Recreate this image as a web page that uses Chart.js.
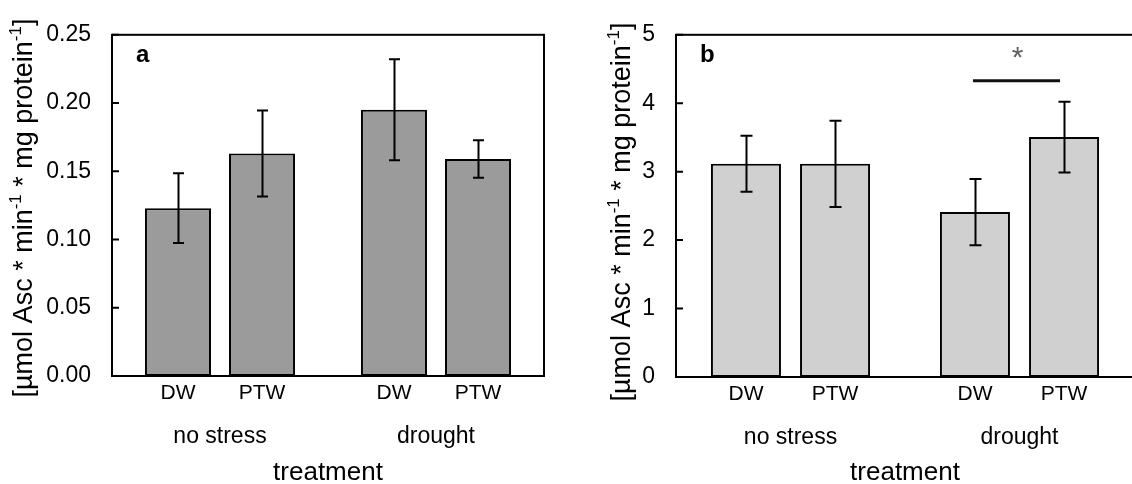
<!DOCTYPE html>
<html><head><meta charset="utf-8">
<script src="https://cdn.jsdelivr.net/npm/chart.js@4.4.1/dist/chart.umd.min.js"></script>
<style>
html,body{margin:0;padding:0;background:#fff;overflow:hidden;width:1132px;height:484px;position:relative;}
#wa{position:absolute;left:0;top:0;width:566px;height:484px;}
#wb{position:absolute;left:566px;top:0;width:580px;height:484px;}
</style></head><body>
<div id="wa"><canvas id="ca"></canvas></div>
<div id="wb"><canvas id="cb"></canvas></div>
<script>
// ---- data ----
const groups = ['no stress', 'drought'];
const waterTypes = ['DW', 'PTW'];
const aDW = [0.123, 0.195];
const aPTW = [0.163, 0.159];
const aDWErr = [0.0255, 0.037];
const aPTWErr = [0.0315, 0.0138];
const bDW = [3.115, 2.41];
const bPTW = [3.115, 3.505];
const bDWErr = [0.41, 0.484];
const bPTWErr = [0.63, 0.518];
const aTicks = [0, 0.05, 0.10, 0.15, 0.20, 0.25];
const bTicks = [0, 1, 2, 3, 4, 5];
const bSigLevel = 4.33;      // significance bracket (drought: DW vs PTW)
const bSigMark = '*';
const xTitle = 'treatment';

const FAM = '"Liberation Sans", Arial, Helvetica, sans-serif';

function makeChart(canvasId, cfg) {
  const errPlugin = {
    id: 'extras',
    afterDatasetsDraw(chart) {
      const ctx = chart.ctx;
      const ys = chart.scales.y, ca = chart.chartArea;
      ctx.save();
      // error bars
      chart.data.datasets.forEach((ds, di) => {
        const meta = chart.getDatasetMeta(di);
        meta.data.forEach((bar, i) => {
          const v = ds.data[i], e = cfg.errs[di][i];
          const yt = ys.getPixelForValue(v + e), yb = ys.getPixelForValue(v - e);
          const x = Math.round(bar.x) + 0.5;
          ctx.strokeStyle = '#000'; ctx.lineWidth = 2;
          ctx.beginPath();
          ctx.moveTo(x, yt); ctx.lineTo(x, yb);
          ctx.moveTo(x - cfg.cap, yt); ctx.lineTo(x + cfg.cap, yt);
          ctx.moveTo(x - cfg.cap, yb); ctx.lineTo(x + cfg.cap, yb);
          ctx.stroke();
          // sub labels under each bar
          ctx.fillStyle = '#000';
          ctx.font = '21px ' + FAM;
          ctx.textAlign = 'center'; ctx.textBaseline = 'middle';
          ctx.fillText(waterTypes[di], bar.x, ca.bottom + 17);
        });
      });
      // frame
      ctx.lineWidth = 2; ctx.strokeStyle = '#000';
      ctx.strokeRect(ca.left, ca.top, ca.right - ca.left, ca.bottom - ca.top);
      // inward y ticks
      ctx.beginPath();
      ys.ticks.forEach(t => {
        const y = ys.getPixelForValue(t.value);
        ctx.moveTo(ca.left, y); ctx.lineTo(ca.left + 7, y);
      });
      ctx.stroke();
      // panel letter
      ctx.fillStyle = '#000';
      ctx.font = 'bold 24px ' + FAM;
      ctx.textAlign = 'left'; ctx.textBaseline = 'alphabetic';
      ctx.fillText(cfg.letter, ca.left + 24, 62);
      // significance
      if (cfg.sig) {
        const m0 = chart.getDatasetMeta(0).data[1], m1 = chart.getDatasetMeta(1).data[1];
        const y = ys.getPixelForValue(cfg.sig.level);
        ctx.lineWidth = 3; ctx.strokeStyle = '#111';
        ctx.beginPath(); ctx.moveTo(m0.x - 2, y); ctx.lineTo(m1.x - 4, y); ctx.stroke();
        ctx.fillStyle = '#606060';
        ctx.font = '30px ' + FAM;
        ctx.textAlign = 'center'; ctx.textBaseline = 'middle';
        ctx.fillText(cfg.sig.mark, (m0.x + m1.x) / 2 - 2, y - 22);
      }
      // y title with superscripts
      const parts = [['[µmol Asc * min', 0], ['-1', 1], [' * mg protein', 0], ['-1', 1], [']', 0]];
      const fs = cfg.titleSize, sfs = Math.round(fs * 0.62);
      let total = 0;
      parts.forEach(p => { ctx.font = (p[1] ? sfs : fs) + 'px ' + FAM; total += ctx.measureText(p[0]).width; });
      ctx.translate(cfg.titleX, cfg.titleY);
      ctx.rotate(-Math.PI / 2);
      ctx.fillStyle = '#000'; ctx.textAlign = 'left'; ctx.textBaseline = 'middle';
      let x = -total / 2;
      parts.forEach(p => {
        ctx.font = (p[1] ? sfs : fs) + 'px ' + FAM;
        ctx.fillText(p[0], x, p[1] ? -fs * 0.33 : 0);
        x += ctx.measureText(p[0]).width;
      });
      ctx.restore();
    }
  };
  return new Chart(document.getElementById(canvasId), {
    type: 'bar',
    data: {
      labels: groups,
      datasets: [
        { label: waterTypes[0], data: cfg.dw, backgroundColor: cfg.fill, borderColor: '#000', borderWidth: 2, borderSkipped: false,
          categoryPercentage: 0.778, barPercentage: 0.786 },
        { label: waterTypes[1], data: cfg.ptw, backgroundColor: cfg.fill, borderColor: '#000', borderWidth: 2, borderSkipped: false,
          categoryPercentage: 0.778, barPercentage: 0.786 }
      ]
    },
    options: {
      responsive: true, maintainAspectRatio: false, animation: false,
      devicePixelRatio: 1,
      layout: { padding: { left: 0, right: cfg.padRight, top: cfg.padTop, bottom: 0 } },
      plugins: { legend: { display: false }, tooltip: { enabled: false } },
      scales: {
        x: {
          grid: { display: false, drawTicks: false }, border: { display: false },
          ticks: { color: '#000', font: { size: 23, family: FAM }, padding: 47 },
          title: { display: true, text: xTitle, color: '#000', font: { size: 26, family: FAM, lineHeight: 0.85 }, padding: 0 },
          afterFit(s) { s.height = cfg.xh; }
        },
        y: {
          min: 0, max: cfg.max,
          afterBuildTicks(s) { s.ticks = cfg.ticks.map(v => ({ value: v })); },
          grid: { display: false, drawTicks: false }, border: { display: false },
          ticks: { color: '#000', font: { size: 23, family: FAM }, padding: 21,
                   callback: v => cfg.fmt(v) },
          afterFit(s) { s.width = cfg.yw; }
        }
      }
    },
    plugins: [errPlugin]
  });
}

makeChart('ca', {
  dw: aDW, ptw: aPTW, errs: [aDWErr, aPTWErr], fill: '#9b9b9b', max: 0.25, ticks: aTicks,
  fmt: v => v.toFixed(2), yw: 112, xh: 108, padTop: 25, padRight: 22, cap: 5.5,
  letter: 'a', titleX: 25, titleY: 208, titleSize: 27
});
makeChart('cb', {
  dw: bDW, ptw: bPTW, errs: [bDWErr, bPTWErr], fill: '#d0d0d0', max: 5, ticks: bTicks,
  fmt: v => String(v), yw: 110, xh: 107, padTop: 26, padRight: 12, cap: 6,
  letter: 'b', titleX: 57, titleY: 212, titleSize: 27,
  sig: { level: bSigLevel, mark: bSigMark }
});
</script>
</body></html>
